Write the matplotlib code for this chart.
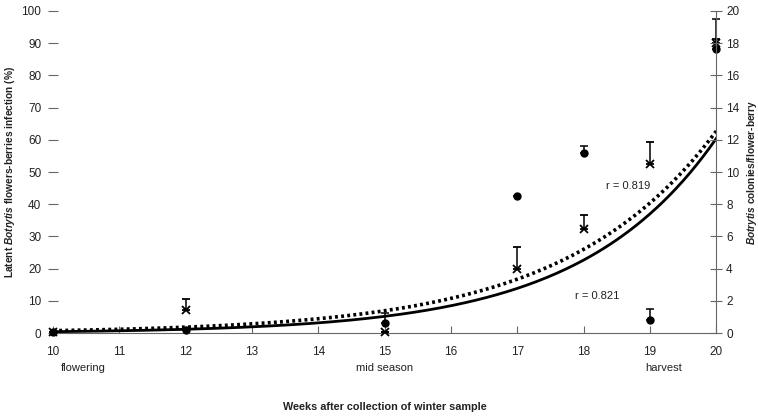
import numpy as np
import matplotlib
matplotlib.use("Agg")
import matplotlib.pyplot as plt

plt.rcParams["font.family"] = ["Liberation Sans", "DejaVu Sans"]
plt.rcParams["mathtext.fontset"] = "custom"
plt.rcParams["mathtext.it"] = "Liberation Sans:italic:bold"
plt.rcParams["mathtext.rm"] = "Liberation Sans:bold"
plt.rcParams["mathtext.bf"] = "Liberation Sans:bold"

weeks = [10, 12, 15, 17, 18, 19, 20]

# filled circles (values in % on the left axis) and their upward error bars
circles = [0.3, 1.0, 3.3, 42.5, 55.9, 4.0, 88.1]
circles_err = [0, 0, 2.9, 0, 2.3, 3.4, 9.3]

# crosses
crosses = [0.5, 7.2, 0.5, 19.9, 32.3, 52.5, 90.0]
crosses_err = [0, 3.3, 0, 6.9, 4.3, 6.8, 1.2]

# exponential trend lines  y = a * exp(b * (week - 10))
trend_solid = (0.45, 0.49)
trend_dotted = (0.77, 0.44)

stage_labels = ["flowering", "mid season", "harvest"]
stage_weeks = [10.45, 15.0, 19.2]

r_labels = ["r = 0.819", "r = 0.821"]
r_pos = [(18.67, 45.6), (18.2, 11.6)]

x_ticks = list(range(10, 21))
left_ticks = list(range(0, 101, 10))
right_ticks = list(range(0, 21, 2))

text_col = "#222222"
axis_col = "#666666"


def draw():
    fig = plt.figure(figsize=(7.58, 4.18), dpi=100)
    ax = fig.add_axes([0.070, 0.203, 0.875, 0.771])

    # trend lines
    xs = np.linspace(10, 20, 200)
    a, b = trend_solid
    ax.plot(xs, a * np.exp(b * (xs - 10)), color="black", lw=2.0, zorder=3)
    a, b = trend_dotted
    ax.plot(xs, a * np.exp(b * (xs - 10)), color="black", lw=2.6,
            linestyle=(0, (0.8, 0.9)), zorder=3)

    # points with upward error bars
    ax.errorbar(weeks, circles, yerr=[[0] * len(weeks), circles_err],
                fmt="o", color="black", ms=5, capsize=3, elinewidth=1.1,
                capthick=1.1, clip_on=False, zorder=4)
    ax.errorbar(weeks, crosses, yerr=[[0] * len(weeks), crosses_err],
                fmt="x", color="black", ms=6, mew=1.3, capsize=3,
                elinewidth=1.1, capthick=1.1, clip_on=False, zorder=4)

    ax.set_xlim(10, 20)
    ax.set_ylim(0, 100)
    ax.set_xticks(x_ticks)
    ax.set_yticks(left_ticks)

    for side in ["left", "top", "right"]:
        ax.spines[side].set_visible(False)
    ax.spines["bottom"].set_color(axis_col)
    ax.tick_params(axis="x", direction="in", length=5, pad=9, color=axis_col,
                   labelsize=8.5, labelcolor=text_col)
    ax.tick_params(axis="y", direction="inout", length=7, pad=5, color=axis_col,
                   labelsize=8.5, labelcolor=text_col)

    ax.set_ylabel(r"Latent $\mathit{Botrytis}$ flowers-berries infection (%)",
                  fontsize=7.3, fontweight="bold", color=text_col)
    ax.yaxis.set_label_coords(-0.054, 0.5)

    # right axis
    ax2 = ax.twinx()
    ax2.set_ylim(0, 20)
    ax2.set_yticks(right_ticks)
    for side in ["left", "top", "bottom"]:
        ax2.spines[side].set_visible(False)
    ax2.spines["right"].set_color(axis_col)
    ax2.tick_params(axis="y", direction="inout", length=8, pad=3, color=axis_col,
                    labelsize=8.5, labelcolor=text_col)
    ax2.set_ylabel(r"$\mathit{Botrytis}$ colonies/flower-berry",
                   fontsize=7.3, fontweight="bold", color=text_col)
    ax2.yaxis.set_label_coords(1.044, 0.5)

    # season stages below the axis
    for lab, wk in zip(stage_labels, stage_weeks):
        ax.text(wk, -0.109, lab, transform=ax.get_xaxis_transform(),
                ha="center", va="center", fontsize=8, color=text_col)

    ax.text(0.5, -0.23, "Weeks after collection of winter sample",
            transform=ax.transAxes, ha="center", va="center", fontsize=7.8,
            fontweight="bold", color=text_col)

    for lab, (x, y) in zip(r_labels, r_pos):
        ax.text(x, y, lab, ha="center", va="center", fontsize=8, color=text_col)

    fig.savefig("out.png", dpi=100)


if __name__ == "__main__":
    draw()
